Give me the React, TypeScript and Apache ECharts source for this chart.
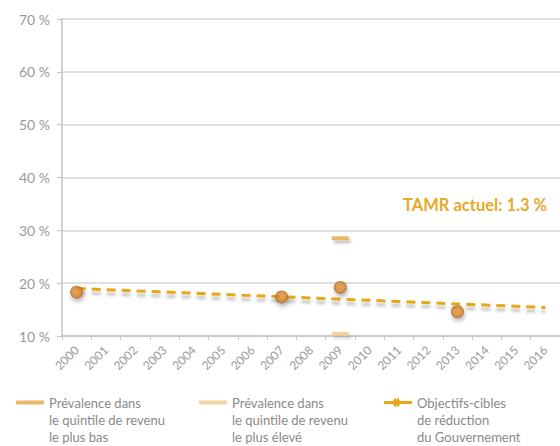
import React, { useEffect, useRef } from "react";
import * as echarts from "echarts";

const years = ["2000", "2001", "2002", "2003", "2004", "2005", "2006", "2007", "2008", "2009", "2010", "2011", "2012", "2013", "2014", "2015", "2016"];
const yTicks = [10, 20, 30, 40, 50, 60, 70];
// Government reduction target trend (start and end points, joined)
const targetTrend: (number | null)[] = [19.0, null, null, null, null, null, null, null, null, null, null, null, null, null, null, null, 15.4];
const prevalenceYears = ["2000", "2007", "2009", "2013"];
const prevalenceValues = [18.3, 17.4, 19.2, 14.6];
const lowestQuintileYears = ["2009"];
const lowestQuintileValues = [28.5];
const highestQuintileYears = ["2009"];
const highestQuintileValues = [10.4];

const NAME_LOW = "Prévalence dans\nle quintile de revenu\nle plus bas";
const NAME_HIGH = "Prévalence dans\nle quintile de revenu\nle plus élevé";
const NAME_TARGET = "Objectifs-cibles\nde réduction\ndu Gouvernement";

const FONT = "Lato";

export default function App() {
  const ref = useRef<HTMLDivElement>(null);
  useEffect(() => {
    if (!ref.current) return;
    const chart = echarts.init(ref.current, null, { renderer: "svg" });
    const legendBase = {
      top: 360,
      orient: "horizontal" as const,
      padding: 0,
      itemWidth: 28,
      itemHeight: 4,
      selectedMode: false,
      formatter: (name: string) => "\n\n" + name,
      textStyle: {
        fontFamily: FONT,
        fontSize: 13,
        color: "#8a8a8a",
        lineHeight: 17,
      },
    };
    chart.setOption({
      animation: false,
      backgroundColor: "#ffffff",
      grid: { left: 62, width: 507, top: 19, height: 317, containLabel: false },
      legend: [
        { ...legendBase, left: 16, data: [{ name: NAME_LOW, icon: "roundRect" }] },
        { ...legendBase, left: 199, data: [{ name: NAME_HIGH, icon: "roundRect" }] },
        {
          ...legendBase,
          left: 384,
          itemHeight: 10,
          data: [
            {
              name: NAME_TARGET,
              icon: "path://M0,3.5h9l2,-3.5l1.5,2.5l1.5,-2.5l2,3.5h12v3h-12l-2,3.5l-1.5,-2.5l-1.5,2.5l-2,-3.5h-9z",
            },
          ],
        },
      ],
      graphic: [
        {
          type: "text",
          x: 547,
          y: 205,
          style: {
            text: "TAMR actuel: 1.3 %",
            fontFamily: FONT,
            fontSize: 16.5,
            fontWeight: "bold",
            fill: "#e8a82a",
            textAlign: "right",
            textVerticalAlign: "middle",
          },
        },
      ],
      xAxis: {
        type: "category",
        data: years,
        boundaryGap: true,
        axisLine: { show: true, lineStyle: { color: "#c4c4c4", width: 1.5 } },
        axisTick: { show: true, length: 4, lineStyle: { color: "#c4c4c4", width: 1 } },
        axisLabel: {
          rotate: 45,
          margin: 12,
          interval: 0,
          fontFamily: FONT,
          fontSize: 12,
          color: "#9a9a9a",
        },
        splitLine: { show: false },
      },
      yAxis: {
        type: "value",
        min: yTicks[0],
        max: yTicks[yTicks.length - 1],
        interval: 10,
        axisLine: { show: true, lineStyle: { color: "#c4c4c4", width: 1.5 } },
        axisTick: { show: true, length: 5, lineStyle: { color: "#c4c4c4", width: 1 } },
        axisLabel: {
          formatter: "{value} %",
          margin: 12,
          fontFamily: FONT,
          fontSize: 14,
          color: "#9a9a9a",
        },
        splitLine: { show: true, lineStyle: { color: "#d4d4d4", width: 1.5 } },
      },
      series: [
        {
          name: NAME_LOW,
          type: "scatter",
          symbol: "rect",
          symbolSize: [17, 4],
          data: lowestQuintileYears.map((y, i) => [y, lowestQuintileValues[i]]),
          itemStyle: {
            color: "#e9a540",
            shadowColor: "rgba(0,0,0,0.3)",
            shadowBlur: 3,
            shadowOffsetX: 2,
            shadowOffsetY: 3,
          },
          z: 3,
        },
        {
          name: NAME_HIGH,
          type: "scatter",
          symbol: "rect",
          symbolSize: [17, 4],
          data: highestQuintileYears.map((y, i) => [y, highestQuintileValues[i]]),
          itemStyle: {
            color: "#f2c98c",
            shadowColor: "rgba(0,0,0,0.2)",
            shadowBlur: 3,
            shadowOffsetX: 2,
            shadowOffsetY: 3,
          },
          z: 3,
        },
        {
          name: NAME_TARGET,
          type: "line",
          data: targetTrend,
          connectNulls: true,
          showSymbol: false,
          symbol: "none",
          itemStyle: { color: "#e6a817" },
          lineStyle: {
            color: "#e6a817",
            width: 3,
            type: [9, 6],
            shadowColor: "rgba(0,0,0,0.25)",
            shadowBlur: 3,
            shadowOffsetY: 4,
          },
          z: 2,
        },
        {
          name: "Prévalence",
          type: "scatter",
          symbol: "circle",
          symbolSize: 13,
          data: prevalenceYears.map((y, i) => [y, prevalenceValues[i]]),
          itemStyle: {
            color: {
              type: "radial",
              x: 0.5,
              y: 0.5,
              r: 0.5,
              colorStops: [
                { offset: 0, color: "#ec9a33" },
                { offset: 0.65, color: "#d9862a" },
                { offset: 1, color: "#9e6428" },
              ],
            },
            shadowColor: "rgba(0,0,0,0.35)",
            shadowBlur: 4,
            shadowOffsetX: 1,
            shadowOffsetY: 3,
          },
          z: 4,
        },
      ],
    });
    return () => chart.dispose();
  }, []);
  return <div ref={ref} style={{ width: 560, height: 446, position: "absolute", left: 0, top: 0 }} />;
}
